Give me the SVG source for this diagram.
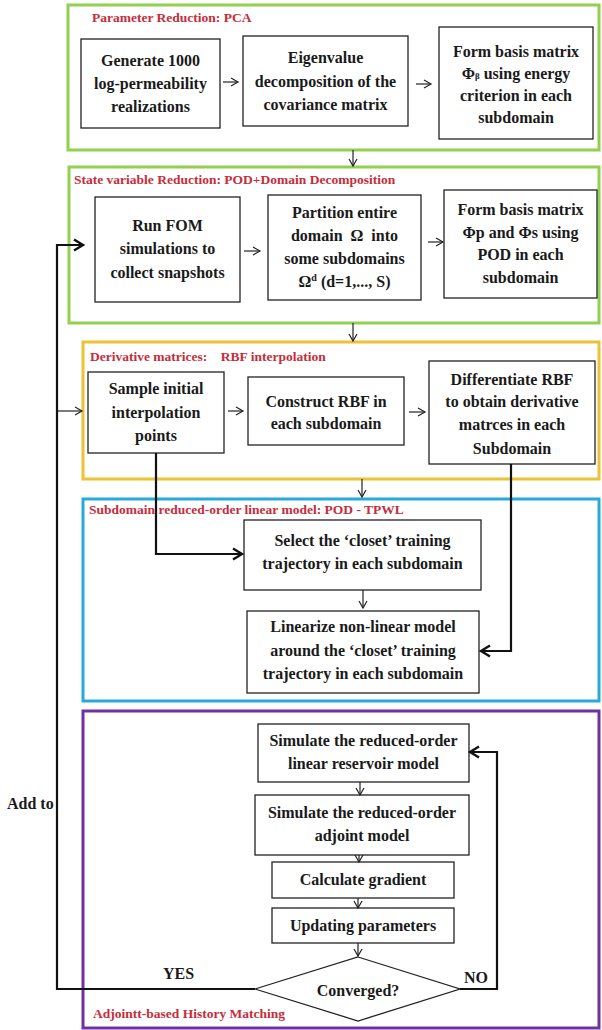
<svg xmlns="http://www.w3.org/2000/svg" width="602" height="1030" viewBox="0 0 602 1030">
<style>
.frame{fill:none;stroke-width:3}
.box{fill:#fff;stroke:#222;stroke-width:1.3}
.t{font-family:'Liberation Serif','Tinos','Times New Roman','DejaVu Serif',serif;font-weight:bold;font-size:16px;fill:#1a1a1a;text-anchor:middle}
.ttl{font-family:'Liberation Serif','Tinos','Times New Roman','DejaVu Serif',serif;font-weight:bold;font-size:13.5px;fill:#C62D3A}
.lbl{font-family:'Liberation Serif','Tinos','Times New Roman','DejaVu Serif',serif;font-weight:bold;font-size:16px;fill:#1a1a1a}
.thin{fill:none;stroke:#222;stroke-width:1.2}
.thick{fill:none;stroke:#111;stroke-width:2.2}
</style>
<defs>
<marker id="ah" markerUnits="userSpaceOnUse" markerWidth="10" markerHeight="10" refX="8" refY="5" orient="auto">
<path d="M1,1 L8,5 L1,9" fill="none" stroke="#222" stroke-width="1.2"/>
</marker>
<marker id="ahb" markerUnits="userSpaceOnUse" markerWidth="14" markerHeight="14" refX="11" refY="7" orient="auto">
<path d="M2,1.5 L11,7 L2,12.5" fill="none" stroke="#111" stroke-width="2.4"/>
</marker>
</defs>
<rect width="602" height="1030" fill="#fff"/>

<g id="frame-pca">
<rect class="frame" x="68" y="5" width="531" height="145" stroke="#92D050"/>
<text class="ttl" x="92" y="22">Parameter Reduction: PCA</text>
</g>
<g id="frame-pod">
<rect class="frame" x="69" y="167" width="530" height="156" stroke="#92D050"/>
<text class="ttl" x="74" y="184">State variable Reduction: POD+Domain Decomposition</text>
</g>
<g id="frame-rbf">
<rect class="frame" x="83" y="342" width="516" height="137" stroke="#EDC234"/>
<text class="ttl" x="90" y="361" xml:space="preserve">Derivative matrices:    RBF interpolation</text>
</g>
<g id="frame-tpwl">
<rect class="frame" x="83" y="499" width="516" height="202" stroke="#27A9DC"/>
<text class="ttl" x="89" y="514">Subdomain reduced-order linear model: POD - TPWL</text>
</g>
<g id="frame-hm">
<rect class="frame" x="83" y="711" width="516" height="317" stroke="#7030A0"/>
<text class="ttl" x="93" y="1018">Adjointt-based History Matching</text>
</g>

<g id="n-generate">
<rect class="box" x="81" y="39" width="139" height="89"/>
<text class="t" x="150.5" y="66">Generate 1000</text>
<text class="t" x="150.5" y="89">log-permeability</text>
<text class="t" x="150.5" y="112">realizations</text>
</g>
<g id="n-eigen">
<rect class="box" x="243" y="36" width="165" height="90"/>
<text class="t" x="325.5" y="63">Eigenvalue</text>
<text class="t" x="325.5" y="87">decomposition of the</text>
<text class="t" x="325.5" y="110">covariance matrix</text>
</g>
<g id="n-basis-beta">
<rect class="box" x="439" y="27" width="154" height="112"/>
<text class="t" x="516" y="57">Form basis matrix</text>
<text class="t" x="516" y="79">Φ<tspan font-size="9">β</tspan> using energy</text>
<text class="t" x="516" y="101">criterion in each</text>
<text class="t" x="516" y="123">subdomain</text>
</g>

<g id="n-fom">
<rect class="box" x="95" y="197" width="145" height="105"/>
<text class="t" x="167.5" y="231">Run FOM</text>
<text class="t" x="167.5" y="254">simulations to</text>
<text class="t" x="167.5" y="278">collect snapshots</text>
</g>
<g id="n-partition">
<rect class="box" x="268" y="195" width="153" height="105"/>
<text class="t" x="344.5" y="218">Partition entire</text>
<text class="t" x="344.5" y="241" xml:space="preserve">domain  Ω  into</text>
<text class="t" x="344.5" y="264">some subdomains</text>
<text class="t" x="344.5" y="287">Ω<tspan font-size="10" dy="-6">d</tspan><tspan dy="6"> (d=1,..., S)</tspan></text>
</g>
<g id="n-basis-ps">
<rect class="box" x="444" y="190" width="153" height="108"/>
<text class="t" x="520.5" y="215">Form basis matrix</text>
<text class="t" x="520.5" y="238">Φp and Φs using</text>
<text class="t" x="520.5" y="260">POD in each</text>
<text class="t" x="520.5" y="283">subdomain</text>
</g>

<g id="n-sample">
<rect class="box" x="88" y="372" width="136" height="81"/>
<text class="t" x="156" y="394">Sample initial</text>
<text class="t" x="156" y="418">interpolation</text>
<text class="t" x="156" y="441">points</text>
</g>
<g id="n-construct">
<rect class="box" x="248" y="377" width="156" height="68"/>
<text class="t" x="326" y="407">Construct RBF in</text>
<text class="t" x="326" y="429">each subdomain</text>
</g>
<g id="n-differentiate">
<rect class="box" x="429" y="361" width="166" height="103"/>
<text class="t" x="512" y="385">Differentiate RBF</text>
<text class="t" x="512" y="407">to obtain derivative</text>
<text class="t" x="512" y="430">matrces in each</text>
<text class="t" x="512" y="454">Subdomain</text>
</g>

<g id="n-select">
<rect class="box" x="244" y="520" width="237" height="70"/>
<text class="t" x="362.5" y="546">Select the ‘closet’ training</text>
<text class="t" x="362.5" y="569">trajectory in each subdomain</text>
</g>
<g id="n-linearize">
<rect class="box" x="247" y="611" width="232" height="82"/>
<text class="t" x="363" y="632">Linearize non-linear model</text>
<text class="t" x="363" y="656">around the ‘closet’ training</text>
<text class="t" x="363" y="679">trajectory in each subdomain</text>
</g>

<g id="n-sim-linear">
<rect class="box" x="258" y="724" width="211" height="58"/>
<text class="t" x="363.5" y="746">Simulate the reduced-order</text>
<text class="t" x="363.5" y="769">linear reservoir model</text>
</g>
<g id="n-sim-adjoint">
<rect class="box" x="255" y="795" width="214" height="60"/>
<text class="t" x="362" y="818">Simulate the reduced-order</text>
<text class="t" x="362" y="841">adjoint model</text>
</g>
<g id="n-gradient">
<rect class="box" x="272" y="862" width="182" height="36"/>
<text class="t" x="363" y="885">Calculate gradient</text>
</g>
<g id="n-update">
<rect class="box" x="272" y="908" width="182" height="35"/>
<text class="t" x="363" y="931">Updating parameters</text>
</g>
<g id="n-converged">
<polygon class="box" points="358,957 460,989 358,1021 255,989"/>
<text class="t" x="358" y="996">Converged?</text>
</g>

<g id="connectors">
<line class="thin" x1="223" y1="82" x2="238" y2="82" marker-end="url(#ah)"/>
<line class="thin" x1="416" y1="84" x2="431" y2="84" marker-end="url(#ah)"/>
<line class="thin" x1="353" y1="150" x2="353" y2="166" marker-end="url(#ah)"/>
<line class="thin" x1="244" y1="251" x2="260" y2="251" marker-end="url(#ah)"/>
<line class="thin" x1="428" y1="242" x2="443" y2="242" marker-end="url(#ah)"/>
<line class="thin" x1="353" y1="323" x2="353" y2="341" marker-end="url(#ah)"/>
<line class="thin" x1="228" y1="411" x2="243" y2="411" marker-end="url(#ah)"/>
<line class="thin" x1="409" y1="412" x2="425" y2="412" marker-end="url(#ah)"/>
<line class="thin" x1="362" y1="479" x2="362" y2="497" marker-end="url(#ah)"/>
<line class="thin" x1="363" y1="590" x2="363" y2="608" marker-end="url(#ah)"/>
<line class="thin" x1="360" y1="782" x2="360" y2="795" marker-end="url(#ah)"/>
<line class="thin" x1="359" y1="855" x2="359" y2="862" marker-end="url(#ah)"/>
<line class="thin" x1="358" y1="898" x2="358" y2="908" marker-end="url(#ah)"/>
<line class="thin" x1="358" y1="943" x2="358" y2="956" marker-end="url(#ah)"/>
<polyline class="thick" points="156,453 156,554 242,554" marker-end="url(#ahb)"/>
<polyline class="thick" points="511,464 511,651 481,651" marker-end="url(#ahb)"/>
<polyline class="thick" points="460,989 497,989 497,752 470,752" marker-end="url(#ahb)"/>
<polyline class="thick" points="255,989 57,989 57,245 83,245" marker-end="url(#ahb)"/>
<line class="thin" x1="57" y1="411" x2="82" y2="411" marker-end="url(#ah)"/>
<text class="lbl" x="7" y="809">Add to</text>
<text class="lbl" x="163" y="979">YES</text>
<text class="lbl" x="464" y="983">NO</text>
</g>
</svg>
